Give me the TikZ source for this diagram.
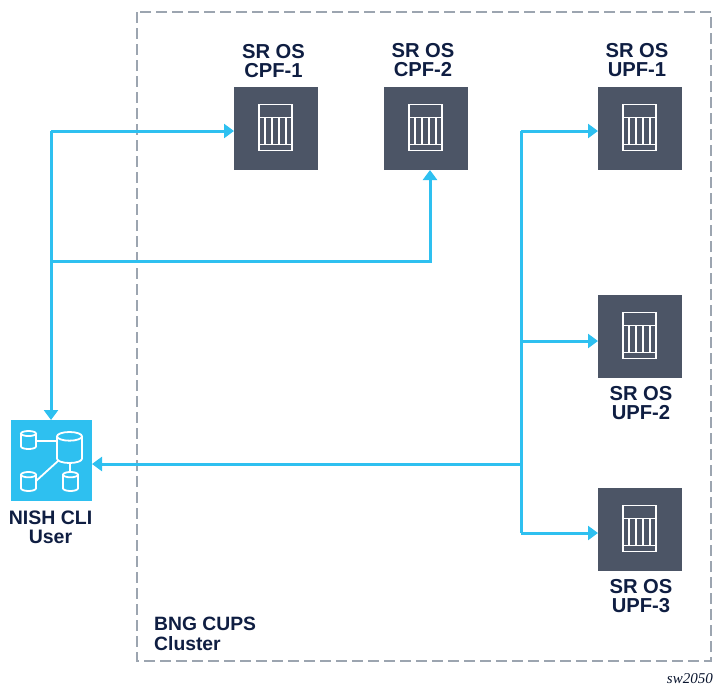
\documentclass[tikz,border=0pt]{standalone}
\usepackage{fontspec}
\setmainfont{Liberation Sans}
\newfontfamily\serifital{Liberation Serif}
\usetikzlibrary{arrows.meta}
\definecolor{boxgray}{HTML}{4C5566}
\definecolor{cyanline}{HTML}{2EC0F0}
\definecolor{navy}{HTML}{0F1E42}
\definecolor{dashgray}{HTML}{9CA5B0}
\tikzset{
  x=1pt,y=-1pt,
  server/.style={fill=boxgray,draw=none,minimum width=84pt,minimum height=83pt,inner sep=0pt,outer sep=0pt},
  usr/.style={fill=cyanline,draw=none,minimum width=81pt,minimum height=81pt,inner sep=0pt,outer sep=0pt},
  lbl/.style={text=navy,font=\fontsize{20.2}{19}\selectfont\bfseries,align=center,inner sep=0pt,anchor=center},
  user lbl/.style={text=navy,font=\fontsize{19.5}{19.5}\selectfont\bfseries,align=center,inner sep=0pt,anchor=center},
  cluster lbl/.style={text=navy,font=\fontsize{19.3}{20}\selectfont\bfseries,align=left,inner sep=0pt,anchor=north west},
  conn/.style={draw=cyanline,line width=3pt},
  connarrow/.style={conn,-{Triangle[length=10pt,width=14pt]}},
  iconline/.style={draw=white,line width=1.8pt},
  clusterbox/.style={draw=dashgray,line width=2.8pt,dash pattern=on 11pt off 5pt},
}
\newcommand{\chassis}[1]{%
  \draw[iconline] ([shift={(-17,-24)}]#1.center) rectangle ([shift={(16,22)}]#1.center);
  \draw[iconline] ([shift={(-17,-11)}]#1.center) -- ([shift={(16,-11)}]#1.center);
  \draw[iconline] ([shift={(-17,16)}]#1.center) -- ([shift={(16,16)}]#1.center);
  \foreach \dx in {-11,-4,3,10}{
    \draw[iconline] ([shift={(\dx,-11)}]#1.center) -- ([shift={(\dx,16)}]#1.center);
  }%
}
\newcommand{\cyl}[4]{% x left, y top, width, height
  \draw[iconline,fill=cyanline] (#1,#2+#4*0.14) -- (#1,#2+#4*0.86)
    arc[start angle=180,end angle=0,x radius=#3/2,y radius=#4*0.14]
    -- (#1+#3,#2+#4*0.14);
  \draw[iconline,fill=cyanline] (#1+#3/2,#2+#4*0.14) ellipse[x radius=#3/2,y radius=#4*0.14];
}
\begin{document}
\begin{tikzpicture}
\useasboundingbox (0,0) rectangle (716,686);
\draw[clusterbox] (137,12) rectangle (711,661);

\node[server] (cpfa) at (276,128.5) {};
\node[server] (cpfb) at (426,128.5) {};
\node[server] (upfa) at (640,128.5) {};
\node[server] (upfb) at (640,336.5) {};
\node[server] (upfc) at (640,529.5) {};
\node[usr] (nish) at (51.5,460.5) {};
\chassis{cpfa}\chassis{cpfb}\chassis{upfa}\chassis{upfb}\chassis{upfc}

\node[lbl] (lcpfa) at (273.5,61) {SR OS\\CPF-1};
\node[lbl] (lcpfb) at (423,60) {SR OS\\CPF-2};
\node[lbl] (lupfa) at (637,60) {SR OS\\UPF-1};
\node[lbl] (lupfb) at (641,403) {SR OS\\UPF-2};
\node[lbl] (lupfc) at (641,596) {SR OS\\UPF-3};
\node[user lbl] (lnish) at (50.5,527.5) {NISH CLI\\User};
\node[cluster lbl] (lclu) at (154,617) {BNG CUPS\\Cluster};
\node[anchor=base east,inner sep=0pt,text=navy!70!black,font=\serifital\itshape\fontsize{15}{16}\selectfont] (tag) at (713,683) {sw2050};

% icon of the user box
\coordinate (hubw) at (57,441);
\draw[iconline] (36,441) -- (hubw);
\draw[iconline] (36,481) -- (58,461);
\draw[iconline] (70,462) -- (70,473);
\cyl{21}{431}{15}{18}
\cyl{21}{472}{15}{19}
\cyl{63}{472}{15}{19}
\cyl{57}{432}{25}{31}

% connectors
\coordinate (lefttop) at (51,131);
\coordinate (leftmid) at (51,261);
\coordinate (cpfbin) at (430,261);
\coordinate (righttop) at (521,131);
\coordinate (rightmid) at (521,341);
\coordinate (rightuser) at (521,464);
\coordinate (rightbot) at (521,533);

\draw[connarrow] (lefttop) -- (lefttop -| cpfa.west);
\draw[connarrow] (lefttop) -- (lefttop |- nish.north);
\draw[connarrow] (leftmid) -- (cpfbin) -- (cpfbin |- cpfb.south);
\draw[conn] (righttop) -- (rightbot);
\draw[connarrow] (righttop) -- (righttop -| upfa.west);
\draw[connarrow] (rightmid) -- (rightmid -| upfb.west);
\draw[connarrow] (rightbot) -- (rightbot -| upfc.west);
\draw[connarrow] (rightuser) -- (rightuser -| nish.east);
\end{tikzpicture}
\end{document}
